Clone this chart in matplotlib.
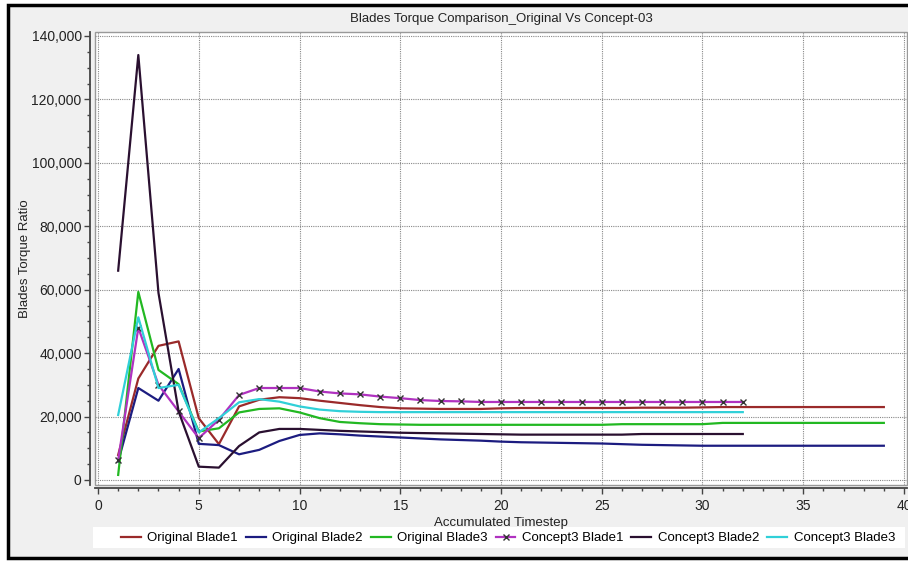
import matplotlib
matplotlib.use("Agg")
import matplotlib.pyplot as plt
from matplotlib.patches import Rectangle
from matplotlib.ticker import MultipleLocator, FuncFormatter

plt.rcParams['font.family'] = ['Liberation Sans', 'DejaVu Sans']

# values in thousands
orig_steps = list(range(1, 40))
conc_steps = list(range(1, 33))

orig_blade1 = [7.9, 32, 42.3, 43.7, 19.5, 11.3, 23.2, 25.3, 26.1, 25.8, 25.0, 24.3, 23.6, 23.0, 22.6,
               22.5, 22.4, 22.4, 22.4, 22.6, 22.7, 22.7, 22.7, 22.7, 22.7, 22.7, 22.8, 22.8, 22.8, 22.9,
               23.0, 23.0, 23.0, 23.0, 23.0, 23.0, 23.0, 23.0, 23.0]
orig_blade2 = [5.8, 29, 25, 35, 11.4, 11.0, 8.1, 9.5, 12.3, 14.2, 14.7, 14.4, 14.0, 13.7, 13.4,
               13.1, 12.8, 12.6, 12.4, 12.1, 11.9, 11.8, 11.7, 11.6, 11.5, 11.3, 11.1, 11.0, 10.9, 10.8,
               10.8, 10.8, 10.8, 10.8, 10.8, 10.8, 10.8, 10.8, 10.8]
orig_blade3 = [1.6, 59.3, 34.7, 30.2, 15.3, 16.3, 21.3, 22.4, 22.6, 21.3, 19.5, 18.3, 17.9, 17.6, 17.5,
               17.4, 17.4, 17.4, 17.4, 17.4, 17.4, 17.4, 17.4, 17.4, 17.4, 17.6, 17.6, 17.6, 17.6, 17.6,
               18.0, 18.0, 18.0, 18.0, 18.0, 18.0, 18.0, 18.0, 18.0]
conc_blade1 = [6.3, 48, 30, 21.6, 13.2, 19.0, 26.8, 29.0, 29.0, 29.0, 27.9, 27.3, 27.0, 26.3, 25.8,
               25.2, 24.9, 24.8, 24.6, 24.6, 24.6, 24.6, 24.6, 24.6, 24.6, 24.6, 24.6, 24.6, 24.6, 24.6,
               24.6, 24.6]
conc_blade2 = [66, 134, 59, 21.6, 4.2, 3.9, 10.7, 15.0, 16.1, 16.1, 15.8, 15.5, 15.3, 15.1, 14.9,
               14.8, 14.7, 14.6, 14.5, 14.4, 14.3, 14.3, 14.3, 14.3, 14.3, 14.3, 14.5, 14.5, 14.5, 14.5,
               14.5, 14.5]
conc_blade3 = [20.5, 51.3, 29, 30, 15.0, 19.5, 24.5, 25.5, 24.7, 23.2, 22.2, 21.7, 21.5, 21.4, 21.4,
               21.4, 21.4, 21.4, 21.4, 21.4, 21.4, 21.4, 21.4, 21.4, 21.4, 21.4, 21.4, 21.4, 21.4, 21.4,
               21.4, 21.4]

W, H = 908, 562
fig = plt.figure(figsize=(W / 100, H / 100), dpi=100, facecolor='white')

# grey window panel with dark frame
fig.patches.append(Rectangle((8 / W, 4 / H), 1.2, 553 / H, transform=fig.transFigure,
                             facecolor='#f0f0f0', edgecolor='black', lw=2.5, zorder=-10))
# white legend strip
fig.patches.append(Rectangle((93 / W, 1 - 548 / H), 812 / W, 21 / H, transform=fig.transFigure,
                             facecolor='white', edgecolor='none', zorder=-5))

ax = fig.add_axes([95 / W, 1 - 485 / H, (907 - 95) / W, (485 - 32) / H])
ax.set_facecolor('white')

k = 1000
ax.plot(orig_steps, [v * k for v in orig_blade1], color='#9a2a2a', lw=1.6, label='Original Blade1')
ax.plot(orig_steps, [v * k for v in orig_blade2], color='#1c1c80', lw=1.6, label='Original Blade2')
ax.plot(orig_steps, [v * k for v in orig_blade3], color='#22b822', lw=1.6, label='Original Blade3')
ax.plot(conc_steps, [v * k for v in conc_blade1], color='#b032c0', lw=1.6, marker='x',
        markersize=5, markeredgecolor='#333333', markeredgewidth=1, label='Concept3 Blade1')
ax.plot(conc_steps, [v * k for v in conc_blade2], color='#2a1030', lw=1.6, label='Concept3 Blade2')
ax.plot(conc_steps, [v * k for v in conc_blade3], color='#30d0d8', lw=1.6, label='Concept3 Blade3')

ax.set_xlim(-0.15, 40.15)
ax.set_ylim(-1580, 141260)

ax.xaxis.set_major_locator(MultipleLocator(5))
ax.xaxis.set_minor_locator(MultipleLocator(1))
ax.yaxis.set_major_locator(MultipleLocator(20000))
ax.yaxis.set_minor_locator(MultipleLocator(5000))
ax.yaxis.set_major_formatter(FuncFormatter(lambda v, p: f'{v:,.0f}'))

ax.grid(True, which='major', color='#888888', lw=0.8, linestyle=(0, (1, 1)))

for s in ['top', 'right']:
    ax.spines[s].set_visible(False)
ax.spines['left'].set_position(('outward', 3.6))
ax.spines['bottom'].set_position(('outward', 2))
ax.spines['left'].set_color('#444444')
ax.spines['bottom'].set_color('#444444')
ax.spines['left'].set_linewidth(1.3)
ax.spines['bottom'].set_linewidth(1.3)

ax.add_patch(Rectangle((0, 0), 1, 1, transform=ax.transAxes, fill=False,
                       edgecolor='#999999', lw=1, clip_on=False))

ax.tick_params(which='major', direction='out', length=4, width=1, colors='#444444',
               labelsize=10, labelcolor='#222222', pad=2)
ax.tick_params(axis='x', which='major', pad=4)
ax.tick_params(which='minor', direction='out', length=2.5, width=1, colors='#444444')

ax.set_title('Blades Torque Comparison_Original Vs Concept-03', fontsize=9.5, color='#222222', pad=7)
ax.set_xlabel('Accumulated Timestep', fontsize=9.5, color='#222222', labelpad=3)
ax.set_ylabel('Blades Torque Ratio', fontsize=9.5, color='#222222', labelpad=0)

fig.legend(loc='center', bbox_to_anchor=(508 / W, 1 - 538 / H), ncol=6, fontsize=9.5,
           frameon=False, handlelength=1.5, handletextpad=0.5, columnspacing=0.6)

fig.savefig('out.png', dpi=100, facecolor=fig.get_facecolor())
